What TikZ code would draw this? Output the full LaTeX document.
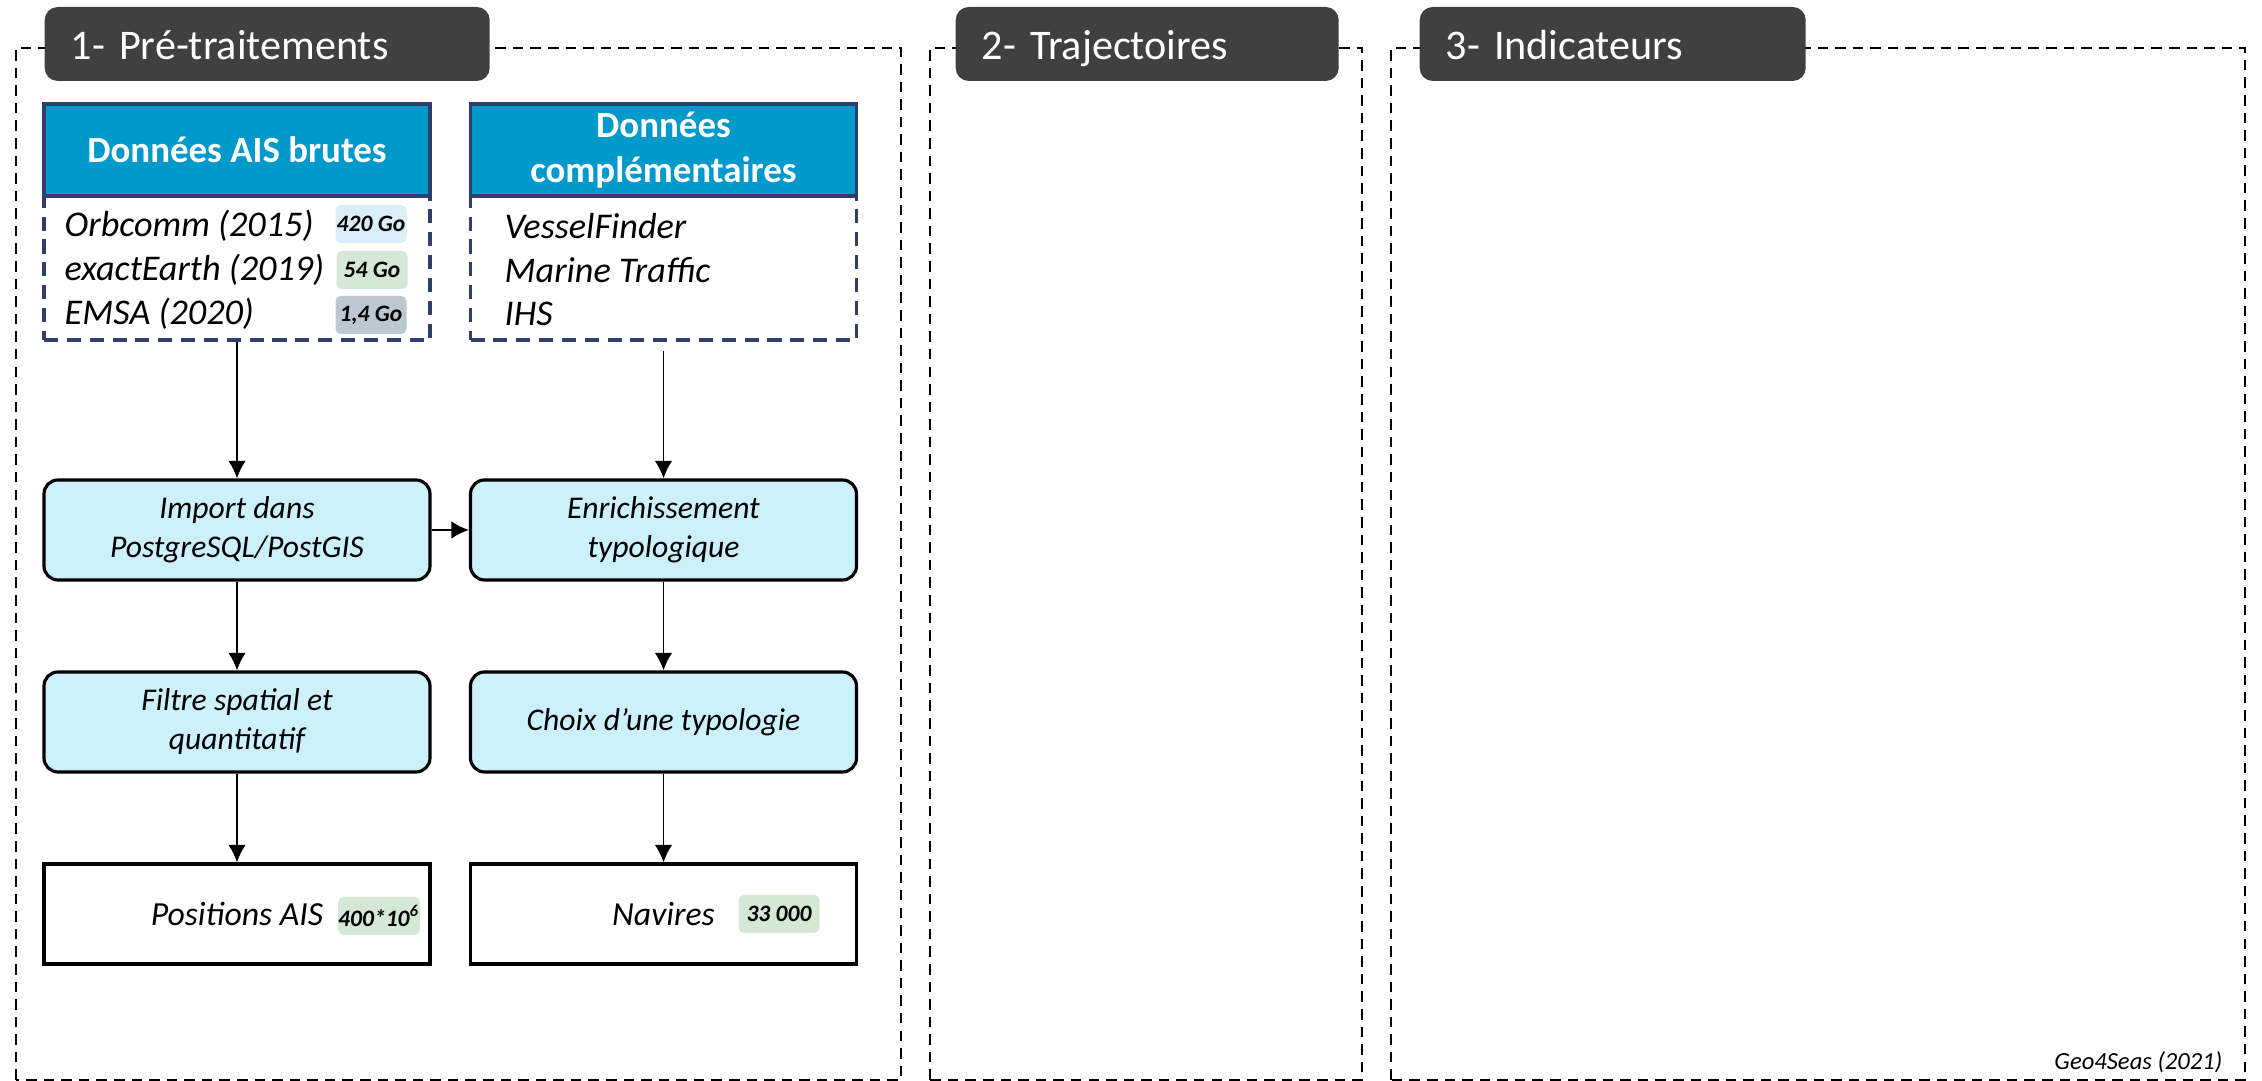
\documentclass[tikz,border=0pt]{standalone}
\usepackage{fontspec}
\setmainfont{Carlito}
\usepackage{tikz}
\usetikzlibrary{arrows.meta}
\definecolor{tabgris}{HTML}{404040}
\definecolor{bleuhead}{HTML}{0099CC}
\definecolor{marine}{HTML}{2F3F6B}
\definecolor{bleuclair}{HTML}{CCF0FC}
\definecolor{badgebleu}{HTML}{D9EEF8}
\definecolor{badgevert}{HTML}{D5E8D6}
\definecolor{badgegris}{HTML}{BCC8D1}

\begin{document}
\begin{tikzpicture}[
  cadre/.style={draw=black, line width=0.6pt, dash pattern=on 3pt off 2pt},
  onglet/.style={fill=tabgris, rounded corners=0.13cm, anchor=west, minimum height=0.74cm, inner xsep=0.26cm, inner ysep=0pt, text height=11pt, text depth=2.4pt, align=left, text=white, font=\fontsize{12}{14}\selectfont},
  entete/.style={fill=bleuhead, draw=marine, line width=0.9pt, minimum width=3.86cm, minimum height=0.92cm, inner sep=0pt, align=center, text=white, font=\bfseries\fontsize{10.5}{12.7}\selectfont},
  liste/.style={draw=marine, line width=0.9pt, dash pattern=on 4pt off 2.5pt, minimum width=3.86cm, minimum height=1.44cm, inner sep=0pt},
  ligne/.style={anchor=west, inner sep=0pt, font=\itshape\fontsize{10.3}{12}\selectfont},
  badge/.style={rounded corners=1.5pt, minimum width=0.71cm, minimum height=0.38cm, inner sep=0pt, font=\bfseries\itshape\fontsize{6.7}{8}\selectfont},
  etape/.style={fill=bleuclair, draw=black, line width=0.9pt, rounded corners=0.14cm, minimum width=3.86cm, minimum height=1cm, inner sep=0pt, align=center, font=\itshape\fontsize{9}{11.1}\selectfont},
  resultat/.style={fill=white, draw=black, line width=0.9pt, minimum width=3.86cm, minimum height=1cm, inner sep=0pt, font=\itshape\fontsize{9.6}{11}\selectfont},
  fleche/.style={draw=black, line width=0.5pt, -{Latex[length=5pt,width=5pt]}}
]
\useasboundingbox (0,0) rectangle (22.62,10.81);

\draw[cadre] (0.16,0.01) rectangle (9.01,10.33);
\draw[cadre] (9.30,0.01) rectangle (13.62,10.33);
\draw[cadre] (13.91,0.01) rectangle (22.45,10.33);
\node[onglet, text width=3.93cm] (tab1) at (0.44,10.37) {1- Pré-traitements};
\node[onglet, text width=3.31cm] (tab2) at (9.55,10.37) {2- Trajectoires};
\node[onglet, text width=3.34cm] (tab3) at (14.19,10.37) {3- Indicateurs};

\node[liste] (aislist) at (2.37,8.13) {};
\node[liste] (complist) at (6.635,8.13) {};
\node[entete] (aisbrut) at (2.37,9.31) {Données AIS brutes};
\node[entete] (complem) at (6.635,9.31) {Données\\complémentaires};

\node[ligne] (orb) at (0.64,8.55) {Orbcomm (2015)};
\node[ligne] (exact) at (0.64,8.11) {exactEarth (2019)};
\node[ligne] (emsa) at (0.64,7.67) {EMSA (2020)};
\node[badge, fill=badgebleu] (go420) at (3.71,8.57) {420 Go};
\node[badge, fill=badgevert] (go54) at (3.72,8.11) {54 Go};
\node[badge, fill=badgegris] (go14) at (3.71,7.66) {1,4 Go};
\node[ligne] (vessel) at (5.04,8.55) {VesselFinder};
\node[ligne] (marine) at (5.04,8.11) {Marine Traffic};
\node[ligne] (ihs) at (5.04,7.67) {IHS};

\node[etape] (import) at (2.37,5.51) {Import dans\\PostgreSQL/PostGIS};
\node[etape] (enrich) at (6.635,5.51) {Enrichissement\\typologique};
\node[etape] (filtre) at (2.37,3.59) {Filtre spatial et\\quantitatif};
\node[etape] (choix) at (6.635,3.59) {Choix d’une typologie};
\node[resultat] (positions) at (2.37,1.67) {Positions AIS};
\node[resultat] (navires) at (6.635,1.67) {Navires};
\node[badge, fill=badgevert, minimum width=0.81cm] (npos) at (3.79,1.65) {400*10\textsuperscript{6}};
\node[badge, fill=badgevert, minimum width=0.81cm] (nnav) at (7.79,1.67) {33 000};

\draw[fleche] (aislist) -- (import);
\draw[fleche, shorten <=0.09cm] (complist) -- (enrich);
\draw[fleche] (import) -- (enrich);
\draw[fleche] (import) -- (filtre);
\draw[fleche] (enrich) -- (choix);
\draw[fleche] (filtre) -- (positions);
\draw[fleche] (choix) -- (navires);

\node[anchor=east, inner sep=0pt, font=\itshape\fontsize{7}{8}\selectfont] (source) at (22.23,0.19) {Geo4Seas (2021)};
\end{tikzpicture}
\end{document}
